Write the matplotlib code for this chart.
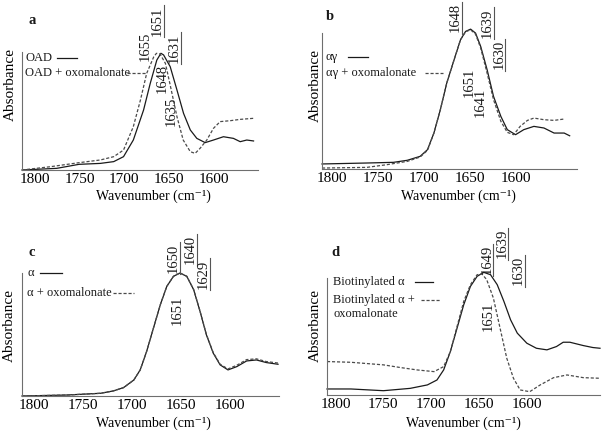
import matplotlib
matplotlib.use("Agg")
import matplotlib.pyplot as plt
from matplotlib.lines import Line2D

plt.rcParams['font.family'] = ['Liberation Serif', 'DejaVu Serif']

W, H = 603, 433

# ---------------- data (wavenumber, relative absorbance) ----------------
# panel a
a_solid_wn = [1815, 1776, 1751, 1727, 1712, 1701, 1690, 1678.5, 1671, 1663.6, 1659, 1656,
              1648.6, 1641, 1633.6, 1626, 1618.7, 1609.3, 1600, 1588.8, 1577.6, 1570, 1562.6, 1555]
a_solid_ab = [0.0, 0.014, 0.048, 0.056, 0.071, 0.113, 0.254, 0.508, 0.734, 0.932, 0.989, 0.975,
              0.876, 0.678, 0.480, 0.339, 0.268, 0.232, 0.254, 0.282, 0.268, 0.240, 0.254, 0.246]
a_dash_wn = [1815, 1783, 1751, 1727, 1712, 1701, 1690, 1682, 1675, 1667, 1664, 1660, 1654,
             1649, 1641, 1634, 1626, 1620.6, 1615, 1607.5, 1600, 1592.5, 1581, 1570, 1555]
a_dash_ab = [0.0, 0.028, 0.062, 0.085, 0.113, 0.169, 0.367, 0.593, 0.819, 0.960, 0.989, 0.983, 0.904,
             0.734, 0.452, 0.254, 0.155, 0.141, 0.184, 0.254, 0.353, 0.410, 0.418, 0.429, 0.438]

# panel b
b_solid_wn = [1811, 1762, 1733, 1718, 1704, 1696, 1689, 1682, 1675, 1667, 1660, 1654.5, 1649,
              1643.6, 1638, 1631, 1624, 1616, 1609, 1600, 1591, 1580, 1569, 1558, 1547, 1541]
b_solid_ab = [0.037, 0.044, 0.049, 0.064, 0.093, 0.142, 0.264, 0.435, 0.631, 0.802, 0.949, 1.010, 1.027,
              0.998, 0.900, 0.729, 0.533, 0.386, 0.289, 0.252, 0.289, 0.313, 0.301, 0.264, 0.264, 0.244]
b_dash_wn = [1811, 1762, 1740, 1718, 1704, 1696, 1689, 1682, 1675, 1667, 1660, 1654.5, 1649,
             1643.6, 1638, 1631, 1624, 1616, 1609, 1602, 1595, 1587, 1580, 1569, 1558, 1547]
b_dash_ab = [0.007, 0.012, 0.032, 0.056, 0.088, 0.137, 0.264, 0.435, 0.631, 0.802, 0.949, 1.008, 1.022,
             0.990, 0.888, 0.704, 0.509, 0.350, 0.269, 0.252, 0.313, 0.357, 0.374, 0.362, 0.357, 0.367]

# panel c
c_solid_wn = [1812, 1766, 1732, 1719, 1708.5, 1698, 1691.5, 1685, 1678, 1671, 1664.4, 1657.6, 1651,
              1644, 1637, 1630.5, 1624, 1617, 1610, 1602, 1593, 1583, 1573, 1563, 1551]
c_solid_ab = [0.0, 0.008, 0.022, 0.041, 0.068, 0.130, 0.212, 0.361, 0.552, 0.742, 0.891, 0.973, 1.0,
              0.973, 0.864, 0.688, 0.497, 0.348, 0.253, 0.212, 0.239, 0.285, 0.293, 0.272, 0.258]
c_dash_wn = [1812, 1766, 1732, 1719, 1708.5, 1698, 1691.5, 1685, 1678, 1671, 1664.4, 1657.6, 1651,
             1644, 1637, 1630.5, 1624, 1617, 1610, 1602, 1593, 1583, 1573, 1563, 1551]
c_dash_ab = [0.0, 0.008, 0.022, 0.041, 0.068, 0.130, 0.212, 0.361, 0.552, 0.742, 0.891, 0.973, 1.0,
             0.973, 0.866, 0.690, 0.500, 0.352, 0.258, 0.220, 0.250, 0.296, 0.302, 0.280, 0.268]

# panel d
d_solid_wn = [1809, 1784, 1750, 1722, 1704, 1694, 1687, 1680, 1673, 1666, 1659, 1652, 1645, 1638,
              1631, 1624, 1617, 1610, 1600, 1590, 1579, 1569, 1562, 1555, 1541, 1531, 1523.5]
d_solid_ab = [0.049, 0.049, 0.035, 0.054, 0.082, 0.122, 0.204, 0.353, 0.543, 0.734, 0.883, 0.965, 0.997, 0.978,
              0.897, 0.761, 0.611, 0.503, 0.421, 0.380, 0.367, 0.394, 0.429, 0.429, 0.402, 0.386, 0.380]
d_dash_wn = [1809, 1784, 1750, 1732, 1715, 1697, 1687, 1680, 1673, 1666, 1659, 1652, 1647, 1642, 1635,
             1628, 1621, 1614, 1607, 1597, 1586, 1572, 1558, 1541, 1523.5]
d_dash_ab = [0.272, 0.266, 0.245, 0.223, 0.204, 0.190, 0.231, 0.353, 0.557, 0.761, 0.897, 0.978, 0.984, 0.938, 0.788,
             0.543, 0.299, 0.136, 0.041, 0.027, 0.082, 0.141, 0.163, 0.141, 0.136]

xticks = [1800, 1750, 1700, 1650, 1600]
tick_labels = ['1800', '1750', '1700', '1650', '1600']

panel_letters = ['a', 'b', 'c', 'd']
legend_solid = ['OAD', 'αγ', 'α', 'Biotinylated α']
legend_dash = ['OAD + oxomalonate', 'αγ + oxomalonate', 'α + oxomalonate',
               'Biotinylated α +\noxomalonate']
xlabel_text = 'Wavenumber (cm⁻¹)'
ylabel_text = 'Absorbance'

# annotations: (label, wavenumber, height, underline)
ann_a = [('1655', 1676.6, 1.05, False), ('1651', 1663, 1.26, True), ('1631', 1644, 1.03, True),
         ('1648', 1657.6, 0.78, False), ('1635', 1648, 0.50, False)]
ann_b = [('1648', 1665.5, 1.11, True), ('1639', 1631, 1.07, True), ('1630', 1618.3, 0.84, True),
         ('1651', 1651, 0.64, False), ('1641', 1638, 0.49, False)]
ann_c = [('1650', 1657.6, 1.12, True), ('1640', 1640.6, 1.19, True), ('1629', 1627, 0.99, True),
         ('1651', 1654, 0.70, False)]
ann_d = [('1649', 1641.7, 1.10, True), ('1639', 1626, 1.23, True), ('1630', 1608.7, 1.01, True),
         ('1651', 1640, 0.64, False)]

# ---------------- layout (pixel boxes) ----------------
# left, right, top(of ylim max), bottom, xlim_left, xlim_right, ymax, spine_top
boxes = [
    (22, 258, 52, 170, 1815, 1550, 1.0, 1.0),
    (322, 577, 26, 169, 1811, 1533, 1.05, 1.0),
    (22, 279, 273, 396, 1812, 1550, 1.0, 1.0),
    (327, 600, 272, 395, 1809, 1523.5, 1.0, 0.954),
]

fig = plt.figure(figsize=(W / 100, H / 100), dpi=100)
fig.patch.set_facecolor('white')


def fx(px):
    return px / W


def fy(py):
    return 1 - py / H


series = [
    (a_solid_wn, a_solid_ab, a_dash_wn, a_dash_ab, ann_a),
    (b_solid_wn, b_solid_ab, b_dash_wn, b_dash_ab, ann_b),
    (c_solid_wn, c_solid_ab, c_dash_wn, c_dash_ab, ann_c),
    (d_solid_wn, d_solid_ab, d_dash_wn, d_dash_ab, ann_d),
]

letter_pos = [(32, 20), (330, 17), (32, 253), (335, 253)]
leg_pos = [  # text x, y_solid, y_dash, solid line x0,x1, dash line x0,x1
    (25, 58, 73, 57, 77, 127, 146),
    (326, 57, 73, 348, 368, 425, 443),
    (27, 273, 293, 40, 62, 113, 134),
    (333, 282, 300, 415, 433, 421, 441),
]
xlabel_pos = [(153, 196), (458, 196), (153, 423), (463, 423)]
ylabel_pos = [(10, 84), (315, 86), (9, 325), (315, 325)]

ink = '#1a1a1a'
dash_col = '#4a4a4a'
spine_col = '#6e6e6e'
rule_col = '#555555'
dash_style = (0, (2.5, 1.5))

for i, (box, (sw, sa, dw, da, anns)) in enumerate(zip(boxes, series)):
    l, r, t, b, xl, xr, ymax, stop = box
    ax = fig.add_axes([fx(l), fy(b), (r - l) / W, (b - t) / H])
    ax.set_xlim(xl, xr)
    ax.set_ylim(0, ymax)
    ax.plot(sw, sa, color=ink, lw=0.9, solid_joinstyle='round', clip_on=False)
    ax.plot(dw, da, color=dash_col, lw=0.9, ls=dash_style, clip_on=False)
    for s in ['top', 'right']:
        ax.spines[s].set_visible(False)
    for s in ['left', 'bottom']:
        ax.spines[s].set_color(spine_col)
        ax.spines[s].set_linewidth(0.8)
    ax.spines['left'].set_bounds(0, stop)
    ax.set_yticks([])
    ax.set_xticks(xticks)
    ax.set_xticklabels(tick_labels)
    ax.tick_params(axis='x', length=0, pad=2.5, labelsize=11)
    ax.set_facecolor('none')

    ax.set_xlabel(xlabel_text, fontsize=10)
    ax.xaxis.label.set_va('center')
    xp, yp = xlabel_pos[i]
    ax.xaxis.set_label_coords((xp - l) / (r - l), (b - yp) / (b - t))
    ax.set_ylabel(ylabel_text, fontsize=11)
    ax.yaxis.label.set_va('center')
    xp, yp = ylabel_pos[i]
    ax.yaxis.set_label_coords((xp - l) / (r - l), (b - yp) / (b - t))

    # peak annotations
    unit = (b - t) / ymax
    for lab, wn, h, ul in anns:
        ax.text(wn, h, lab, rotation=90, ha='center', va='center', fontsize=10.5,
                color=ink, clip_on=False)
        if ul:
            xpix = ax.transData.transform((wn, 0))[0] + 6.5
            wn_line = ax.transData.inverted().transform((xpix, 0))[0]
            half = 16.0 / unit
            ax.plot([wn_line, wn_line], [h - half, h + half], color=rule_col, lw=0.8,
                    clip_on=False)

    # panel letter
    lx, ly = letter_pos[i]
    fig.text(fx(lx), fy(ly), panel_letters[i], fontsize=10.5, fontweight='bold',
             ha='center', va='center', color=ink)

    # legend
    tx, ys, yd, s0, s1, d0, d1 = leg_pos[i]
    fig.text(fx(tx), fy(ys), legend_solid[i], fontsize=9, ha='left', va='center', color=ink)
    lines = legend_dash[i].split('\n')
    for k, line in enumerate(lines):
        fig.text(fx(tx), fy(yd + 14 * k), line, fontsize=9, ha='left', va='center', color=ink)
    fig.add_artist(Line2D([fx(s0), fx(s1)], [fy(ys), fy(ys)], color=ink, lw=0.9))
    fig.add_artist(Line2D([fx(d0), fx(d1)], [fy(yd), fy(yd)], color=dash_col, lw=0.9, ls=dash_style))

fig.savefig('out.png', dpi=100, facecolor='white')
